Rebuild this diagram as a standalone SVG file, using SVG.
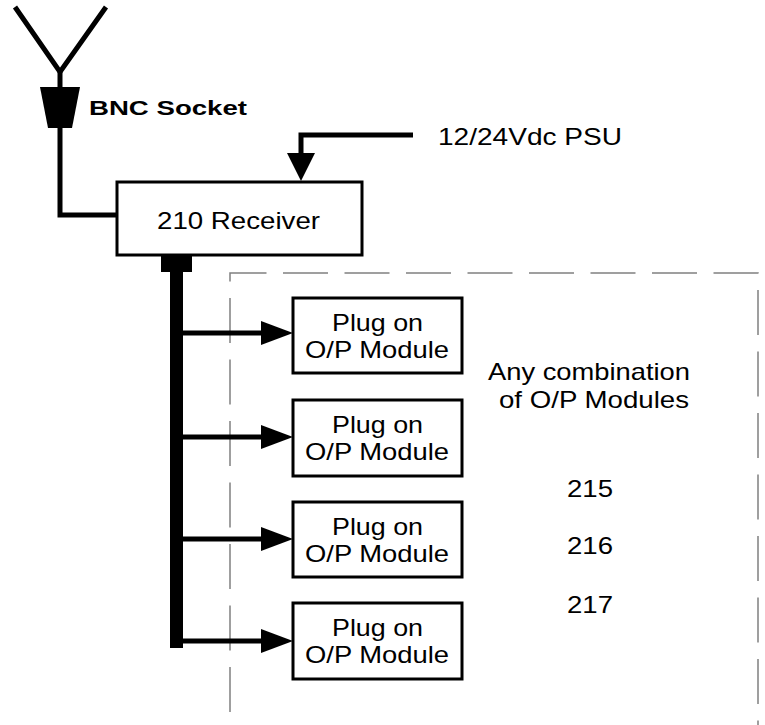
<svg xmlns="http://www.w3.org/2000/svg" width="765" height="725" viewBox="0 0 765 725">
  <defs>
    <style>
      .t { font-family: "Liberation Sans", Arial, sans-serif; font-size: 24px; fill: #000; }
      .tb { font-family: "Liberation Sans", Arial, sans-serif; font-size: 21px; font-weight: bold; fill: #000; }
      .box { fill: #fff; stroke: #000; stroke-width: 3; }
      .wire { fill: none; stroke: #000; stroke-width: 5; }
      .head { fill: #000; stroke: none; }
      .dash { fill: none; stroke: #808080; stroke-width: 1.5; stroke-dasharray: 45 16.5; }
    </style>
  </defs>
  <rect width="765" height="725" fill="#fff"/>

  <!-- dashed enclosure -->
  <path class="dash" d="M230,712 V273 H758 V725"/>

  <g id="connectors">
    <!-- antenna to receiver -->
    <polyline class="wire" points="60,128 60,215 117,215"/>
    <!-- PSU feed -->
    <polyline class="wire" points="413,135 301,135 301,154"/>
    <polygon class="head" points="287,153 315,153 301,181"/>
    <!-- bus -->
    <rect x="161" y="243" width="31" height="29" fill="#000"/>
    <rect x="170" y="260" width="13" height="388" fill="#000"/>
    <!-- branches -->
    <line class="wire" x1="183" y1="333" x2="263" y2="333"/>
    <polygon class="head" points="261,321 293,333 261,345"/>
    <line class="wire" x1="183" y1="437" x2="263" y2="437"/>
    <polygon class="head" points="261,425 293,437 261,449"/>
    <line class="wire" x1="183" y1="539" x2="263" y2="539"/>
    <polygon class="head" points="261,527 293,539 261,551"/>
    <line class="wire" x1="183" y1="641" x2="263" y2="641"/>
    <polygon class="head" points="261,629 293,641 261,653"/>
  </g>

  <g id="antenna">
    <polyline class="wire" points="15,7 60,72 106,7" stroke-linejoin="miter"/>
    <line class="wire" x1="60" y1="70" x2="60" y2="88"/>
  </g>

  <g id="bnc-socket">
    <polygon points="40,87 80,87 72,128 48,128" fill="#000"/>
    <text class="tb" x="89" y="115" textLength="158" lengthAdjust="spacingAndGlyphs">BNC Socket</text>
  </g>

  <g id="psu">
    <text class="t" x="438" y="145" textLength="184" lengthAdjust="spacingAndGlyphs">12/24Vdc PSU</text>
  </g>

  <g id="receiver">
    <rect class="box" x="117" y="182" width="245" height="73"/>
    <text class="t" x="157" y="229" textLength="163" lengthAdjust="spacingAndGlyphs">210 Receiver</text>
  </g>

  <g id="module1">
    <rect class="box" x="293" y="298" width="169" height="75"/>
    <text class="t" x="332" y="331" textLength="91" lengthAdjust="spacingAndGlyphs">Plug on</text>
    <text class="t" x="305" y="358" textLength="144" lengthAdjust="spacingAndGlyphs">O/P Module</text>
  </g>
  <g id="module2">
    <rect class="box" x="293" y="400" width="169" height="76"/>
    <text class="t" x="332" y="433" textLength="91" lengthAdjust="spacingAndGlyphs">Plug on</text>
    <text class="t" x="305" y="460" textLength="144" lengthAdjust="spacingAndGlyphs">O/P Module</text>
  </g>
  <g id="module3">
    <rect class="box" x="293" y="502" width="169" height="75"/>
    <text class="t" x="332" y="535" textLength="91" lengthAdjust="spacingAndGlyphs">Plug on</text>
    <text class="t" x="305" y="562" textLength="144" lengthAdjust="spacingAndGlyphs">O/P Module</text>
  </g>
  <g id="module4">
    <rect class="box" x="293" y="603" width="169" height="76"/>
    <text class="t" x="332" y="636" textLength="91" lengthAdjust="spacingAndGlyphs">Plug on</text>
    <text class="t" x="305" y="663" textLength="144" lengthAdjust="spacingAndGlyphs">O/P Module</text>
  </g>

  <g id="note">
    <text class="t" x="488" y="380" textLength="202" lengthAdjust="spacingAndGlyphs">Any combination</text>
    <text class="t" x="499" y="408" textLength="190" lengthAdjust="spacingAndGlyphs">of O/P Modules</text>
    <text class="t" x="567" y="497" textLength="46" lengthAdjust="spacingAndGlyphs">215</text>
    <text class="t" x="567" y="554" textLength="46" lengthAdjust="spacingAndGlyphs">216</text>
    <text class="t" x="567" y="613" textLength="46" lengthAdjust="spacingAndGlyphs">217</text>
  </g>
</svg>
